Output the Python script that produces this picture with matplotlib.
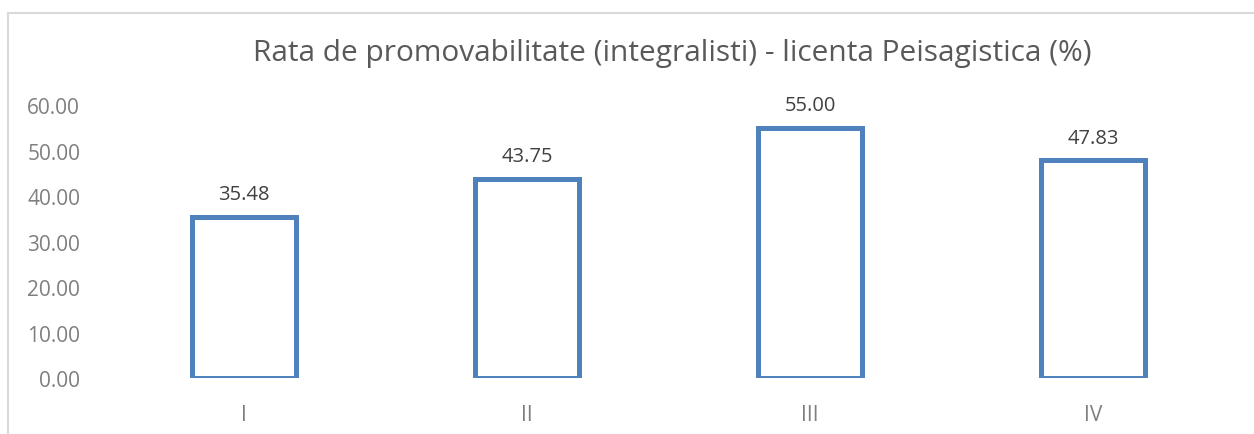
import matplotlib.pyplot as plt
from matplotlib.lines import Line2D

# --- data ---
categories = ["I", "II", "III", "IV"]
values = [35.48, 43.75, 55.00, 47.83]
y_ticks = [0, 10, 20, 30, 40, 50, 60]
title = "Rata de promovabilitate (integralisti) - licenta Peisagistica (%)"

BAR_EDGE = "#4F81BD"

plt.rcParams["font.family"] = ["Open Sans", "DejaVu Sans"]

fig = plt.figure(figsize=(12.54, 4.35), dpi=100)
ax = fig.add_axes([0.0817, 0.1287, 0.9028, 0.6276])

x = list(range(len(categories)))
bars = ax.bar(x, values, width=0.365, facecolor="white",
              edgecolor=BAR_EDGE, linewidth=3.6)

for xi, v in zip(x, values):
    ax.annotate(f"{v:.2f}", (xi, v), xytext=(0, 9), textcoords="offset points",
                ha="center", va="bottom", fontsize=14.5, color="#404040")

ax.set_xlim(-0.5, len(categories) - 0.5)
ax.set_ylim(0, 60)
ax.set_yticks(y_ticks)
ax.set_yticklabels([f"{t:.2f}" for t in y_ticks])
ax.set_xticks(x)
ax.set_xticklabels(categories)
ax.tick_params(axis="y", length=0, pad=16, labelsize=15, labelcolor="#7F7F7F")
ax.tick_params(axis="x", length=0, pad=19, labelsize=15, labelcolor="#7F7F7F")
for s in ax.spines.values():
    s.set_visible(False)

fig.text(0.536, 0.878, title, ha="center", va="center",
         fontsize=21.5, color="#595959")

# chart area border (top and left visible)
fig.add_artist(Line2D([8 / 1254, 1], [1 - 14 / 435] * 2,
                      transform=fig.transFigure, color="#D9D9D9", lw=1.5))
fig.add_artist(Line2D([8 / 1254] * 2, [0, 1 - 14 / 435],
                      transform=fig.transFigure, color="#D9D9D9", lw=1.5))

fig.savefig("out.png", dpi=100)
